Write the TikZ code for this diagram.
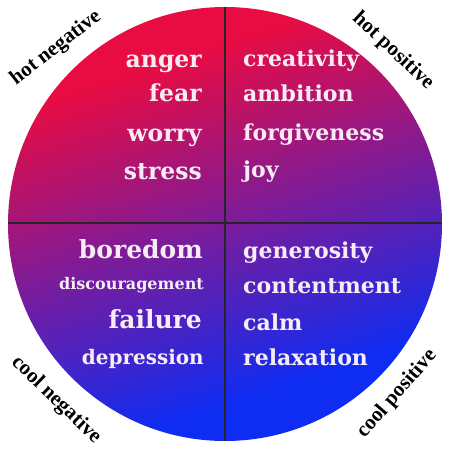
\documentclass[tikz,border=0pt]{standalone}
\usepackage{fontspec}
\setmainfont{DejaVu Serif}
\newfontfamily\cornerfont{Liberation Serif}
\usetikzlibrary{positioning}

\definecolor{hotred}{RGB}{232,12,66}
\definecolor{coolblue}{RGB}{14,44,242}
\definecolor{wordwhite}{RGB}{248,236,244}
\pgfdeclareverticalshading{discfill}{100bp}{color(0bp)=(coolblue); color(30bp)=(coolblue);
  color(70bp)=(hotred); color(100bp)=(hotred)}

\begin{document}
\begin{tikzpicture}[
  x=1pt, y=-1pt,
  word/.style={text=wordwhite, inner sep=0pt, font=\bfseries\fontsize{22}{22}\selectfont},
  lword/.style={word, anchor=base east},
  rword/.style={word, anchor=base west},
  large/.style={font=\bfseries\fontsize{23.5}{23.5}\selectfont},
  big/.style={font=\bfseries\fontsize{25}{25}\selectfont},
  mid/.style={font=\bfseries\fontsize{20}{20}\selectfont},
  small/.style={font=\bfseries\fontsize{16}{16}\selectfont},
  corner/.style={inner sep=0pt, font=\cornerfont\bfseries\fontsize{21}{21}\selectfont},
  divider/.style={line width=1.6pt, black!85},
]
\useasboundingbox (0,0) rectangle (450,450);

% --- disc and quadrant lines ---
\coordinate (c) at (225,224);
\shade[shading=discfill, shading angle=18] (c) circle[radius=217];
\coordinate (top) at (225,7);
\coordinate (bot) at (225,441);
\coordinate (lft) at (8,223);
\coordinate (rgt) at (442,223);
\draw[divider] (top) -- (bot);
\draw[divider] (lft) -- (rgt);

% --- hot negative ---
\node[lword, large] (anger) at (202,67) {anger};
\node[lword, large] (fear) at (202,101) {fear};
\node[lword, large] (worry) at (202,141) {worry};
\node[lword, large] (stress) at (202,179) {stress};

% --- hot positive ---
\node[rword] (creativity) at (243,66) {creativity};
\node[rword] (ambition) at (243,101) {ambition};
\node[rword] (forgiveness) at (243,140) {forgiveness};
\node[rword] (joy) at (243,177) {joy};

% --- cool negative ---
\node[lword, big] (boredom) at (203,258) {boredom};
\node[lword, small] (discouragement) at (204,289) {discouragement};
\node[lword, big] (failure) at (202,328) {failure};
\node[lword, mid] (depression) at (204,364) {depression};

% --- cool positive ---
\node[rword] (generosity) at (243,258) {generosity};
\node[rword] (contentment) at (243,293) {contentment};
\node[rword] (calm) at (243,330) {calm};
\node[rword] (relaxation) at (243,365) {relaxation};

% --- corner labels ---
\node[corner, rotate=38] (hotneg) at (56,48) {hot negative};
\node[corner, rotate=-43] (hotpos) at (393,51) {hot positive};
\node[corner, rotate=-44] (coolneg) at (56,400) {cool negative};
\node[corner, rotate=49] (coolpos) at (397,394) {cool positive};

\end{tikzpicture}
\end{document}
